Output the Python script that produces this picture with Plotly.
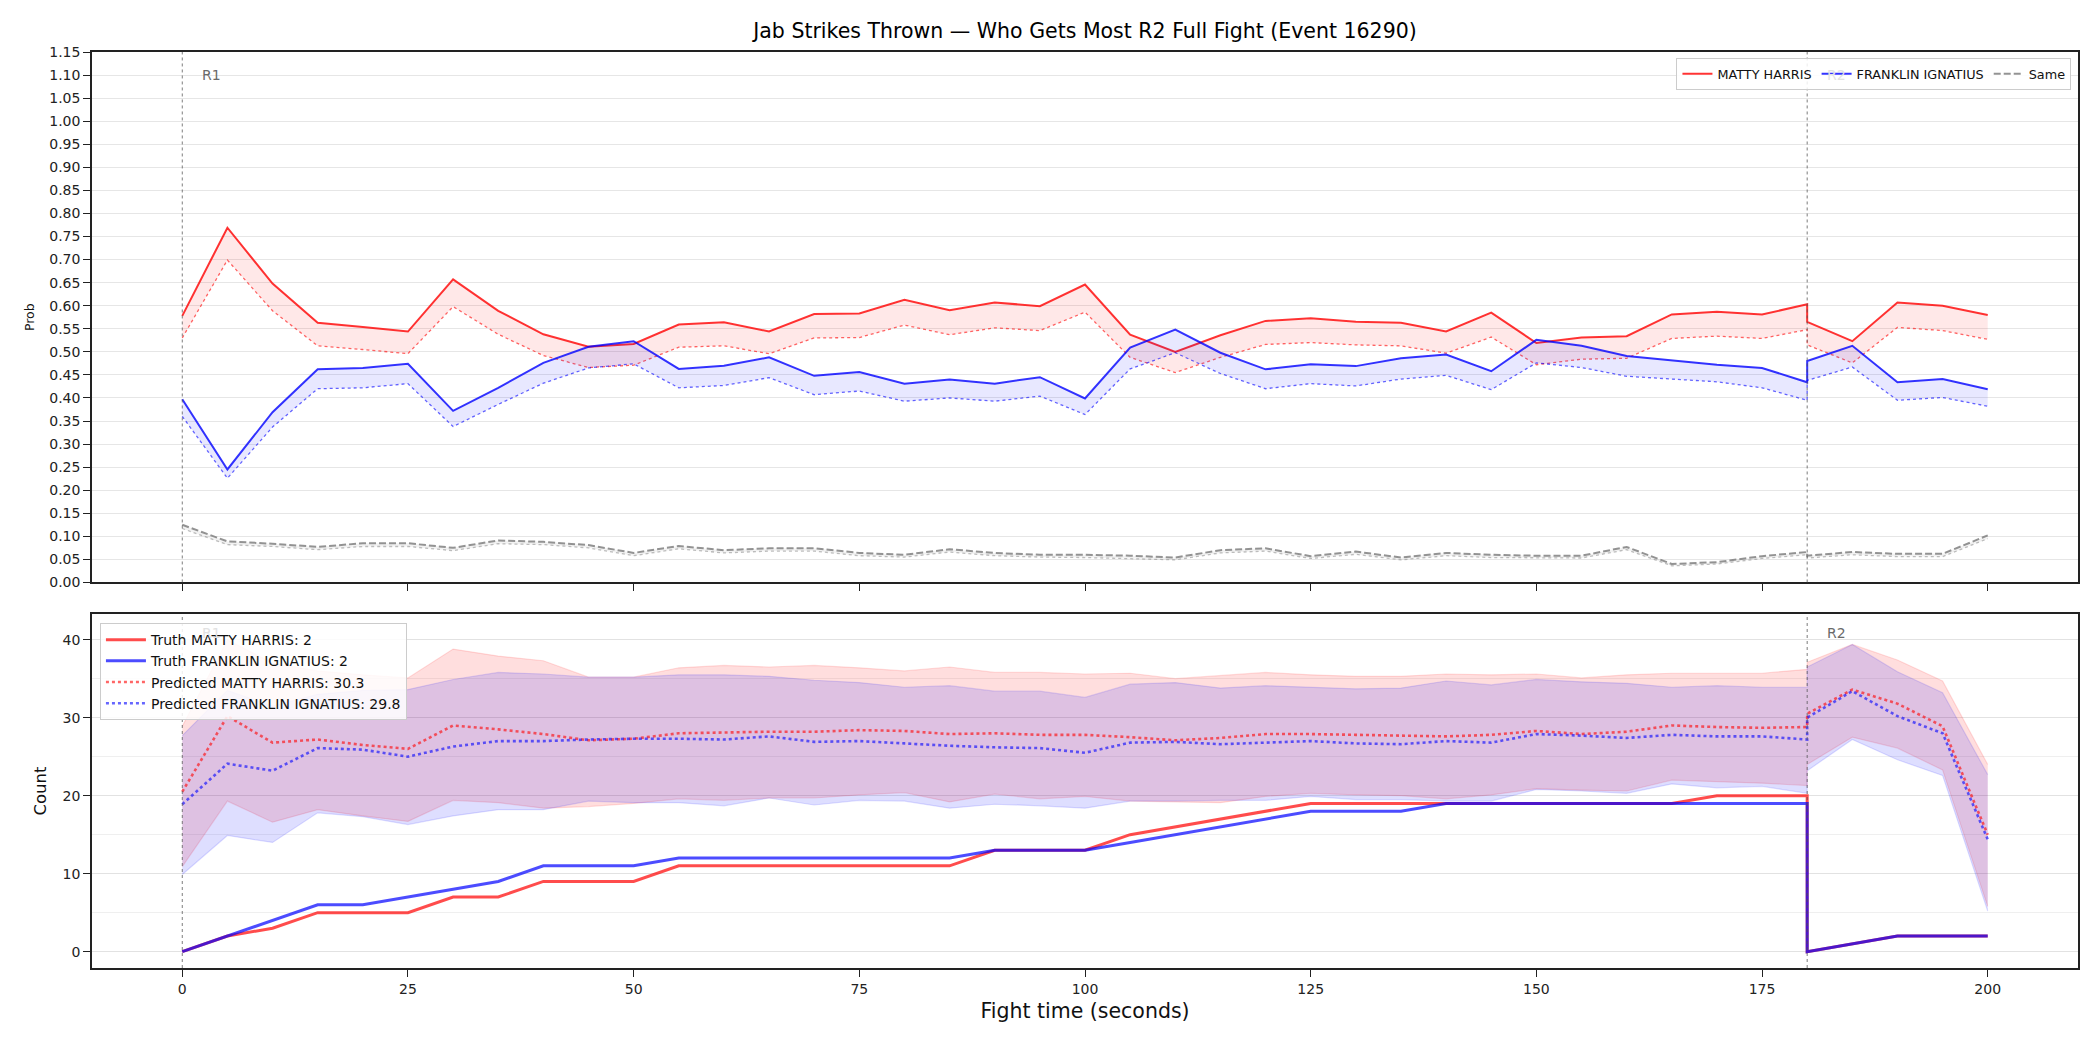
import plotly.graph_objects as go

# ---------------- data ----------------
t = [0, 5, 10, 15, 20, 25, 30, 35, 40, 45, 50, 55, 60, 65, 70, 75, 80, 85, 90, 95,
     100, 105, 110, 115, 120, 125, 130, 135, 140, 145, 150, 155, 160, 165, 170, 175, 180,
     180, 185, 190, 195, 200]

# top panel: live probability (solid) and predicted probability (dotted)
prob_mh = [0.578, 0.769, 0.648, 0.563, 0.554, 0.544, 0.657, 0.589, 0.538, 0.511, 0.517, 0.559,
           0.564, 0.544, 0.582, 0.583, 0.613, 0.590, 0.607, 0.599, 0.646, 0.537, 0.500, 0.536,
           0.567, 0.573, 0.565, 0.563, 0.544, 0.585, 0.519, 0.531, 0.534, 0.581, 0.587, 0.581,
           0.603, 0.565, 0.523, 0.607, 0.600, 0.580]
prob_mh_pred = [0.530, 0.699, 0.589, 0.513, 0.505, 0.496, 0.598, 0.538, 0.492, 0.466, 0.471, 0.510,
                0.513, 0.496, 0.530, 0.531, 0.558, 0.537, 0.552, 0.546, 0.586, 0.488, 0.455, 0.488,
                0.516, 0.520, 0.515, 0.513, 0.497, 0.532, 0.472, 0.484, 0.486, 0.529, 0.534, 0.529,
                0.548, 0.515, 0.476, 0.553, 0.546, 0.527]
prob_fi = [0.397, 0.245, 0.369, 0.462, 0.465, 0.474, 0.372, 0.422, 0.476, 0.511, 0.523, 0.463,
           0.470, 0.488, 0.448, 0.456, 0.431, 0.440, 0.431, 0.445, 0.399, 0.509, 0.548, 0.498,
           0.462, 0.473, 0.469, 0.486, 0.494, 0.458, 0.526, 0.513, 0.491, 0.481, 0.472, 0.465,
           0.434, 0.480, 0.513, 0.434, 0.441, 0.419]
prob_fi_pred = [0.360, 0.226, 0.337, 0.420, 0.422, 0.431, 0.338, 0.386, 0.432, 0.465, 0.474, 0.422,
                0.427, 0.444, 0.407, 0.415, 0.393, 0.400, 0.393, 0.404, 0.364, 0.463, 0.498, 0.453,
                0.420, 0.431, 0.426, 0.441, 0.449, 0.418, 0.476, 0.466, 0.447, 0.441, 0.435, 0.422,
                0.395, 0.438, 0.467, 0.395, 0.401, 0.382]
prob_same = [0.125, 0.089, 0.084, 0.077, 0.085, 0.085, 0.075, 0.091, 0.088, 0.081, 0.064, 0.079,
             0.070, 0.074, 0.074, 0.064, 0.060, 0.072, 0.064, 0.060, 0.060, 0.058, 0.054, 0.070,
             0.074, 0.057, 0.067, 0.054, 0.064, 0.060, 0.058, 0.058, 0.077, 0.040, 0.044, 0.057,
             0.066, 0.058, 0.066, 0.062, 0.062, 0.102]
prob_same_pred = [0.117, 0.082, 0.078, 0.071, 0.078, 0.078, 0.069, 0.084, 0.082, 0.075, 0.058, 0.073,
                  0.064, 0.068, 0.068, 0.058, 0.055, 0.066, 0.058, 0.055, 0.054, 0.052, 0.049, 0.064,
                  0.068, 0.052, 0.061, 0.049, 0.058, 0.054, 0.053, 0.053, 0.071, 0.036, 0.040, 0.052,
                  0.060, 0.053, 0.060, 0.056, 0.056, 0.095]

# bottom panel: cumulative counts
truth_mh = [0, 2, 3, 5, 5, 5, 7, 7, 9, 9, 9, 11, 11, 11, 11, 11, 11, 11, 13, 13, 13, 15, 16, 17,
            18, 19, 19, 19, 19, 19, 19, 19, 19, 19, 20, 20, 20, 0, 1, 2, 2, 2]
truth_fi = [0, 2, 4, 6, 6, 7, 8, 9, 11, 11, 11, 12, 12, 12, 12, 12, 12, 12, 13, 13, 13, 14, 15, 16,
            17, 18, 18, 18, 19, 19, 19, 19, 19, 19, 19, 19, 19, 0, 1, 2, 2, 2]
pred_mh = [20.5, 30.2, 26.8, 27.2, 26.5, 26.0, 29.0, 28.5, 27.9, 27.1, 27.3, 28.0, 28.1, 28.2, 28.2,
           28.4, 28.3, 27.9, 28.0, 27.8, 27.8, 27.5, 27.1, 27.4, 27.9, 27.9, 27.8, 27.7, 27.6, 27.8,
           28.3, 27.9, 28.2, 29.0, 28.8, 28.7, 28.8, 30.5, 33.6, 31.8, 28.9, 15.0]
pred_fi = [18.9, 24.1, 23.2, 26.1, 25.9, 25.0, 26.3, 27.0, 27.0, 27.2, 27.3, 27.3, 27.2, 27.6, 26.9,
           27.0, 26.7, 26.4, 26.2, 26.1, 25.5, 26.8, 26.9, 26.6, 26.8, 27.0, 26.7, 26.6, 27.0, 26.8,
           27.9, 27.7, 27.4, 27.8, 27.6, 27.6, 27.2, 30.0, 33.4, 30.2, 28.0, 14.4]
mh_hi = [28.9, 40.0, 37.0, 36.0, 35.5, 35.1, 38.8, 37.9, 37.3, 35.2, 35.2, 36.4, 36.7, 36.5, 36.7,
         36.4, 36.0, 36.5, 35.8, 35.8, 35.6, 35.7, 35.0, 35.4, 35.8, 35.5, 35.3, 35.3, 35.6, 35.5,
         35.6, 35.1, 35.5, 35.7, 35.7, 35.7, 36.2, 37.1, 39.4, 37.4, 34.7, 24.0]
mh_lo = [10.9, 19.3, 16.6, 18.2, 17.4, 16.7, 19.4, 19.1, 18.4, 18.6, 19.0, 19.6, 19.4, 19.7, 19.7,
         20.1, 20.4, 19.2, 20.2, 19.6, 19.9, 19.3, 19.2, 19.1, 19.9, 20.3, 20.1, 20.0, 19.6, 20.1,
         20.9, 20.7, 20.6, 22.0, 21.8, 21.6, 21.3, 24.0, 27.5, 26.1, 23.3, 5.8]
fi_hi = [27.7, 33.5, 31.5, 33.0, 33.5, 33.6, 34.9, 35.8, 35.6, 35.2, 35.2, 35.5, 35.5, 35.3, 34.8,
         34.5, 33.9, 34.1, 33.4, 33.4, 32.6, 34.3, 34.5, 33.8, 34.1, 33.9, 33.7, 33.8, 34.7, 34.2,
         34.9, 34.6, 34.4, 33.9, 34.1, 33.9, 33.9, 36.5, 39.4, 35.9, 33.2, 22.7]
fi_lo = [9.9, 14.9, 14.0, 17.8, 17.3, 16.3, 17.4, 18.2, 18.2, 19.3, 19.1, 19.1, 18.7, 19.7, 18.8,
         19.4, 19.3, 18.4, 18.9, 18.7, 18.4, 19.3, 19.3, 19.4, 19.4, 19.9, 19.5, 19.5, 19.3, 19.3,
         20.8, 20.6, 20.3, 21.5, 21.0, 21.2, 20.3, 23.2, 27.2, 24.6, 22.6, 5.2]

names = ["MATTY HARRIS", "FRANKLIN IGNATIUS"]
final_pred = [30.3, 29.8]
final_truth = [2, 2]
round_starts = [0, 180]
round_labels = ["R1", "R2"]
x_ticks = [0, 25, 50, 75, 100, 125, 150, 175, 200]

RED = "rgba(255,0,0,0.8)"
BLUE = "rgba(0,0,255,0.8)"
FONT = "DejaVu Sans"

fig = go.Figure()

# ---------------- top panel ----------------
def prob_pair(pred, live, name, line_col, fill_col, pred_col, dash="solid", legend_show=True):
    fig.add_trace(go.Scatter(x=t, y=pred, mode="lines", xaxis="x", yaxis="y",
                             line=dict(color=pred_col, width=1.3, dash="dot"),
                             showlegend=False, hoverinfo="skip"))
    fig.add_trace(go.Scatter(x=t, y=live, mode="lines", xaxis="x", yaxis="y",
                             line=dict(width=0), fill="tonexty", fillcolor=fill_col,
                             showlegend=False, hoverinfo="skip"))
    fig.add_trace(go.Scatter(x=t, y=live, mode="lines", xaxis="x", yaxis="y", name=name,
                             line=dict(color=line_col, width=2, dash=dash),
                             legend="legend", showlegend=legend_show))

prob_pair(prob_mh_pred, prob_mh, names[0], RED, "rgba(255,0,0,0.09)", "rgba(255,0,0,0.6)")
prob_pair(prob_fi_pred, prob_fi, names[1], BLUE, "rgba(0,0,255,0.09)", "rgba(0,0,255,0.6)")
prob_pair(prob_same_pred, prob_same, "Same", "rgba(128,128,128,0.85)", "rgba(128,128,128,0.10)",
          "rgba(128,128,128,0.5)", dash="7px,3px")

# ---------------- bottom panel ----------------
def band(lo, hi, col_fill, col_edge):
    fig.add_trace(go.Scatter(x=t, y=lo, mode="lines", xaxis="x2", yaxis="y2",
                             line=dict(color=col_edge, width=1.2), showlegend=False, hoverinfo="skip"))
    fig.add_trace(go.Scatter(x=t, y=hi, mode="lines", xaxis="x2", yaxis="y2",
                             line=dict(color=col_edge, width=1.2), fill="tonexty", fillcolor=col_fill,
                             showlegend=False, hoverinfo="skip"))

band(mh_lo, mh_hi, "rgba(255,0,0,0.13)", "rgba(255,0,0,0.13)")
band(fi_lo, fi_hi, "rgba(0,0,255,0.13)", "rgba(0,0,255,0.13)")

fig.add_trace(go.Scatter(x=t, y=truth_mh, mode="lines", xaxis="x2", yaxis="y2",
                         name=f"Truth {names[0]}: {final_truth[0]}",
                         line=dict(color="rgba(255,0,0,0.7)", width=3), legend="legend2"))
fig.add_trace(go.Scatter(x=t, y=truth_fi, mode="lines", xaxis="x2", yaxis="y2",
                         name=f"Truth {names[1]}: {final_truth[1]}",
                         line=dict(color="rgba(0,0,255,0.7)", width=3), legend="legend2"))
fig.add_trace(go.Scatter(x=t, y=pred_mh, mode="lines", xaxis="x2", yaxis="y2",
                         name=f"Predicted {names[0]}: {final_pred[0]}",
                         line=dict(color="rgba(255,0,0,0.6)", width=2.6, dash="dot"), legend="legend2"))
fig.add_trace(go.Scatter(x=t, y=pred_fi, mode="lines", xaxis="x2", yaxis="y2",
                         name=f"Predicted {names[1]}: {final_pred[1]}",
                         line=dict(color="rgba(0,0,255,0.6)", width=2.6, dash="dot"), legend="legend2"))

# round markers
shapes = []
annotations = []
for rs, rl in zip(round_starts, round_labels):
    for xr, yr in (("x", "y domain"), ("x2", "y2 domain")):
        shapes.append(dict(type="line", xref=xr, yref=yr, x0=rs, x1=rs, y0=0, y1=1,
                           line=dict(color="rgba(80,80,80,0.75)", width=1, dash="dot")))
# top: R1 visible, R2 sits under the legend; bottom: R1 under the legend, R2 visible
annotations.append(dict(x=round_starts[0] + 2, y=1.122, xref="x", yref="y", text=round_labels[0],
                        showarrow=False, xanchor="left", yanchor="top",
                        font=dict(family=FONT, size=14, color="#6a6a6a")))
annotations.append(dict(x=round_starts[1] + 2, y=1.122, xref="x", yref="y", text=round_labels[1],
                        showarrow=False, xanchor="left", yanchor="top",
                        font=dict(family=FONT, size=14, color="#e2e2e2")))
annotations.append(dict(x=round_starts[0] + 2, y=42.1, xref="x2", yref="y2", text=round_labels[0],
                        showarrow=False, xanchor="left", yanchor="top",
                        font=dict(family=FONT, size=14, color="#e2e2e2")))
annotations.append(dict(x=round_starts[1] + 2, y=42.1, xref="x2", yref="y2", text=round_labels[1],
                        showarrow=False, xanchor="left", yanchor="top",
                        font=dict(family=FONT, size=14, color="#6a6a6a")))

axis_common = dict(showline=True, linecolor="#222", linewidth=1.5, mirror=True,
                   ticks="outside", ticklen=7, tickcolor="#222", tickwidth=1.3,
                   tickfont=dict(family=FONT, size=14, color="#222"), zeroline=False)

fig.update_layout(
    width=2100, height=1050,
    paper_bgcolor="white", plot_bgcolor="white",
    margin=dict(l=92, r=22, t=52, b=82),
    font=dict(family=FONT, color="#111"),
    title=dict(text="Jab Strikes Thrown — Who Gets Most R2 Full Fight (Event 16290)",
               x=0.5, xref="paper", xanchor="center", y=0.9705, yref="container", yanchor="middle",
               font=dict(family=FONT, size=20.5, color="#000")),
    xaxis=dict(domain=[0, 1], anchor="y", range=[-10, 210], tickvals=x_ticks,
               showticklabels=False, showgrid=False, matches="x2", **axis_common),
    yaxis=dict(domain=[0.4209, 1.0], anchor="x", range=[0, 1.15], dtick=0.05, tick0=0,
               tickformat=".2f", showgrid=True, gridcolor="#e6e6e6", gridwidth=1,
               title=dict(text="Prob", standoff=12, font=dict(family=FONT, size=12.5, color="#111")),
               **axis_common),
    xaxis2=dict(domain=[0, 1], anchor="y2", range=[-10, 210], tickvals=x_ticks,
                showgrid=False,
                title=dict(text="Fight time (seconds)", standoff=8,
                           font=dict(family=FONT, size=20.5, color="#111")),
                **axis_common),
    yaxis2=dict(domain=[0.0, 0.3865], anchor="x2", range=[-2.1, 43.3], dtick=10, tick0=0,
                showgrid=True, gridcolor="#e2e2e2", gridwidth=1,
                minor=dict(dtick=5, tick0=0, showgrid=True, gridcolor="#efefef", ticks=""),
                title=dict(text="Count", standoff=12, font=dict(family=FONT, size=16.5, color="#111")),
                **axis_common),
    legend=dict(orientation="h", traceorder="normal", x=0.9967, xanchor="right", y=0.9934,
                yanchor="top", xref="paper", yref="paper",
                bgcolor="rgba(255,255,255,0.85)", bordercolor="#cccccc", borderwidth=1,
                font=dict(family=FONT, size=12.8, color="#111"), itemwidth=30),
    legend2=dict(orientation="v", traceorder="normal", x=0.004, xanchor="left", y=0.3766,
                 yanchor="top", xref="paper", yref="paper",
                 bgcolor="rgba(255,255,255,0.85)", bordercolor="#cccccc", borderwidth=1,
                 font=dict(family=FONT, size=14, color="#111"), itemwidth=40, tracegroupgap=0),
    shapes=shapes,
    annotations=annotations,
)

fig.write_html("out.html")
